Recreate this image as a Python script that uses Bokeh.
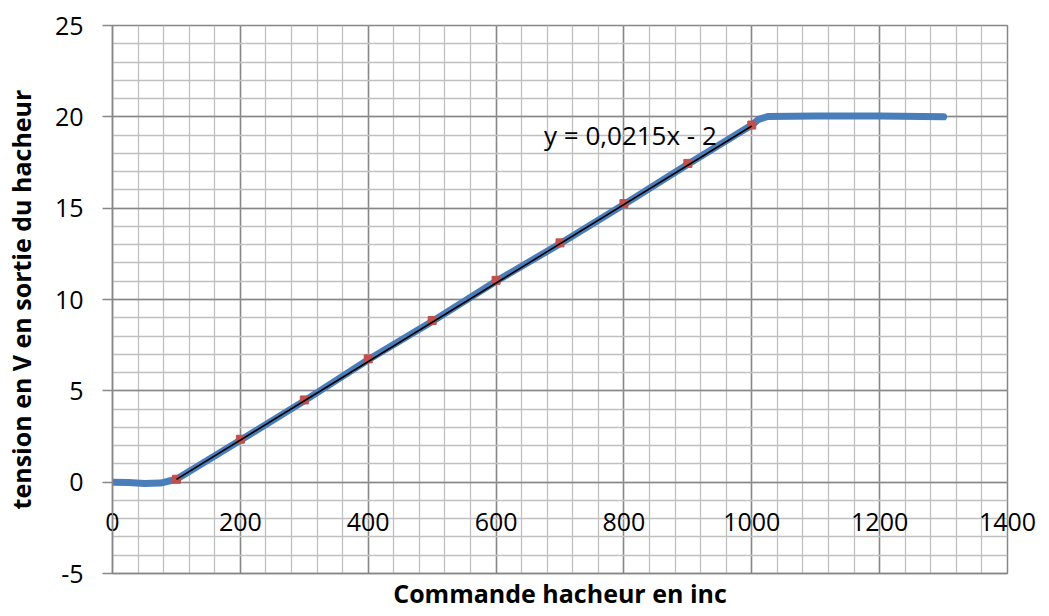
from bokeh.plotting import figure
from bokeh.models import FixedTicker, Title, Label, Range1d, PrintfTickFormatter
from bokeh.embed import file_html
from bokeh.resources import INLINE

# ---- data ----
blue_x = [0, 25, 50, 75, 100, 200, 300, 400, 500, 600, 700, 800, 900, 1000, 1010, 1025, 1100, 1200, 1300]
blue_y = [0.0, -0.02, -0.07, -0.05, 0.16, 2.3, 4.45, 6.7, 8.8, 11.0, 13.05, 15.2, 17.4, 19.55, 19.85, 20.02, 20.05, 20.05, 20.0]

mark_x = [100, 200, 300, 400, 500, 600, 700, 800, 900, 1000]
mark_y = [0.16, 2.35, 4.5, 6.75, 8.85, 11.05, 13.1, 15.25, 17.45, 19.55]

trend_x = [100, 1000]
trend_y = [0.15, 19.5]
trend_text = "y = 0,0215x - 2"
trend_text_pos = (675, 19.0)

x_ticks = [0, 200, 400, 600, 800, 1000, 1200, 1400]
x_minor = list(range(0, 1401, 40))
y_ticks = [-5, 0, 5, 10, 15, 20, 25]
y_minor = list(range(-5, 26, 1))

x_title = "Commande hacheur en inc"
y_title = "tension en V en sortie du hacheur"

FONT = "Open Sans"
MAJOR = "#878787"
MINOR = "#c0c0c0"

p = figure(frame_width=895, frame_height=548, output_backend="svg", toolbar_location=None,
           x_range=Range1d(0, 1400), y_range=Range1d(-5, 25),
           min_border_left=112, min_border_right=34, min_border_top=25, min_border_bottom=0)
p.outline_line_color = MAJOR
p.outline_line_width = 1.5
p.background_fill_color = "white"
p.border_fill_color = "white"

# x axis: labels shown near the y=0 line (as in the original)
p.xaxis.ticker = FixedTicker(ticks=x_ticks, minor_ticks=x_minor)
p.xaxis.formatter = PrintfTickFormatter(format="%d")
p.xaxis.axis_line_color = MAJOR
p.xaxis.axis_line_width = 1.5
p.xaxis.major_tick_out = 0
p.xaxis.major_tick_in = 0
p.xaxis.minor_tick_out = 0
p.xaxis.minor_tick_in = 0
p.xaxis.major_label_standoff = -61
p.xaxis.major_label_text_font = FONT
p.xaxis.major_label_text_font_size = "25px"
p.xaxis.major_label_text_color = "black"

p.yaxis.ticker = FixedTicker(ticks=y_ticks, minor_ticks=y_minor)
p.yaxis.formatter = PrintfTickFormatter(format="%d")
p.yaxis.axis_line_color = MAJOR
p.yaxis.axis_line_width = 1.5
p.yaxis.major_tick_out = 10
p.yaxis.major_tick_in = 0
p.yaxis.major_tick_line_color = MAJOR
p.yaxis.major_tick_line_width = 1.5
p.yaxis.minor_tick_out = 0
p.yaxis.minor_tick_in = 0
p.yaxis.major_label_standoff = 19
p.yaxis.major_label_text_font = FONT
p.yaxis.major_label_text_font_size = "25px"
p.yaxis.major_label_text_color = "black"
p.yaxis.axis_label = y_title
p.yaxis.axis_label_text_font = FONT
p.yaxis.axis_label_text_font_size = "25px"
p.yaxis.axis_label_text_font_style = "bold"
p.yaxis.axis_label_text_color = "black"
p.yaxis.axis_label_standoff = 14

for g in (p.xgrid, p.ygrid):
    g.grid_line_color = MAJOR
    g.grid_line_width = 1.5
    g.minor_grid_line_color = MINOR
    g.minor_grid_line_width = 1.3
p.xgrid.ticker = p.xaxis[0].ticker
p.ygrid.ticker = p.yaxis[0].ticker

p.add_layout(Title(text=x_title, align="center", text_font=FONT, text_font_size="25px",
                   text_font_style="bold", text_color="black", standoff=0, offset=0), "below")

p.line(blue_x, blue_y, line_color="#4a7ebb", line_width=7, line_join="round", line_cap="round")
p.scatter(mark_x, mark_y, marker="square", size=8, fill_color="#c0504d", line_color="#c0504d")
p.line(trend_x, trend_y, line_color="black", line_width=1.6)

p.add_layout(Label(x=trend_text_pos[0], y=trend_text_pos[1], text=trend_text, text_font=FONT,
                   text_font_size="26px", text_color="black", text_baseline="alphabetic"))

open("out.html", "w").write(file_html(p, INLINE))
